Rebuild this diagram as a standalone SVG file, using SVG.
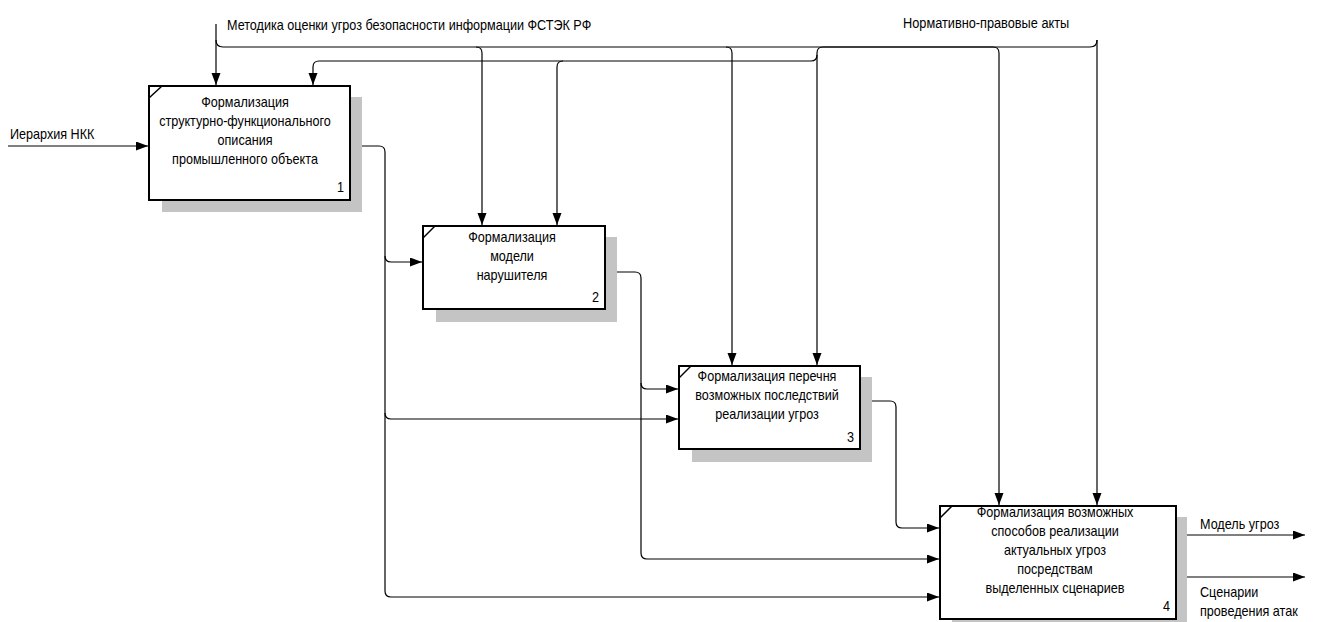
<svg xmlns="http://www.w3.org/2000/svg" width="1319" height="622" viewBox="0 0 1319 622">
  <style>
    text { font-family: "Liberation Sans", Arial, sans-serif; font-size: 14.5px; fill: #000; }
    .box { fill: #fff; stroke: #000; stroke-width: 2; }
    .shadow { fill: #c4c4c4; stroke: none; }
    .corner { stroke: #000; stroke-width: 1.5; fill: none; }
    .mid { text-anchor: middle; }
    .num { text-anchor: end; }
    .link { fill: none; stroke: #000; stroke-width: 1.2; }
    .arrow { marker-end: url(#head); }
  </style>
  <defs>
    <marker id="head" markerUnits="userSpaceOnUse" markerWidth="13" markerHeight="10" refX="12" refY="4.5" orient="auto">
      <path d="M0,0 L12,4.5 L0,9 z" fill="#000"/>
    </marker>
  </defs>
  <rect width="1319" height="622" fill="#fff"/>

  <!-- connectors -->
  <g id="connectors">
    <!-- control: methodology -->
    <path class="link arrow" d="M216,24 V85"/>
    <path class="link arrow" d="M216,40 q0,7 7,7 H993 q6,0 6,6 V505"/>
    <path class="link arrow" d="M476,47 q6,0 6,6 V225"/>
    <path class="link arrow" d="M726,47 q6,0 6,6 V365"/>
    <!-- control: legal acts -->
    <path class="link arrow" d="M1097,40 V505"/>
    <path class="link arrow" d="M1097,40 q0,7 -7,7 H823 q-6,0 -6,6 V365"/>
    <path class="link arrow" d="M817,55 q0,6 -6,6 H563 q-6,0 -6,6 V225"/>
    <path class="link arrow" d="M563,61 H319 q-6,0 -6,6 V85"/>
    <!-- input -->
    <path class="link arrow" d="M8,146 H148"/>
    <!-- outputs of block 1 -->
    <path class="link arrow" d="M350,146 H379 q6,0 6,6 V591 q0,6 6,6 H939"/>
    <path class="link arrow" d="M385,256 q0,6 6,6 H422"/>
    <path class="link arrow" d="M385,413 q0,6 6,6 H678"/>
    <!-- outputs of block 2 -->
    <path class="link arrow" d="M605,272 H635 q6,0 6,6 V553 q0,6 6,6 H939"/>
    <path class="link arrow" d="M641,383 q0,6 6,6 H678"/>
    <!-- output of block 3 -->
    <path class="link arrow" d="M860,401 H890 q6,0 6,6 V522 q0,6 6,6 H939"/>
    <!-- outputs of block 4 -->
    <path class="link arrow" d="M1176,535 H1305"/>
    <path class="link arrow" d="M1176,577 H1305"/>
  </g>

  <!-- arrow labels (narrow face: horizontally compressed) -->
  <g id="labels">
    <g transform="translate(227,0) scale(0.87,1)"><text x="0" y="30">Методика оценки угроз безопасности информации ФСТЭК РФ</text></g>
    <g transform="translate(903,0) scale(0.88,1)"><text x="0" y="28">Нормативно-правовые акты</text></g>
    <g transform="translate(10,0) scale(0.87,1)"><text x="0" y="139">Иерархия НКК</text></g>
    <g transform="translate(1200,0) scale(0.87,1)">
      <text x="0" y="529">Модель угроз</text>
      <text x="0" y="597">Сценарии</text>
      <text x="0" y="616">проведения атак</text>
    </g>
  </g>

  <g id="node1">
    <rect class="shadow" x="162" y="97" width="200" height="115"/>
    <rect class="box" x="149" y="86" width="201" height="114"/>
    <path class="corner" d="M149,98 L162,86"/>
    <g transform="translate(245,0) scale(0.87,1)">
      <text class="mid" x="0" y="107">Формализация</text>
      <text class="mid" x="0" y="126">структурно-функционального</text>
      <text class="mid" x="0" y="145">описания</text>
      <text class="mid" x="0" y="164">промышленного объекта</text>
    </g>
    <g transform="translate(344,0) scale(0.87,1)"><text class="num" x="0" y="192">1</text></g>
  </g>

  <g id="node2">
    <rect class="shadow" x="436" y="237" width="181" height="85"/>
    <rect class="box" x="423" y="226" width="182" height="83"/>
    <path class="corner" d="M423,238 L435,226"/>
    <g transform="translate(512,0) scale(0.87,1)">
      <text class="mid" x="0" y="242">Формализация</text>
      <text class="mid" x="0" y="261">модели</text>
      <text class="mid" x="0" y="280">нарушителя</text>
    </g>
    <g transform="translate(599,0) scale(0.87,1)"><text class="num" x="0" y="302">2</text></g>
  </g>

  <g id="node3">
    <rect class="shadow" x="692" y="377" width="180" height="85"/>
    <rect class="box" x="679" y="366" width="181" height="83"/>
    <path class="corner" d="M679,378 L691,366"/>
    <g transform="translate(767,0) scale(0.87,1)">
      <text class="mid" x="0" y="381">Формализация перечня</text>
      <text class="mid" x="0" y="400">возможных последствий</text>
      <text class="mid" x="0" y="419">реализации угроз</text>
    </g>
    <g transform="translate(854,0) scale(0.87,1)"><text class="num" x="0" y="442">3</text></g>
  </g>

  <g id="node4">
    <rect class="shadow" x="952" y="517" width="235" height="110"/>
    <rect class="box" x="940" y="506" width="236" height="113"/>
    <path class="corner" d="M940,518 L952,506"/>
    <g transform="translate(1055,0) scale(0.87,1)">
      <text class="mid" x="0" y="517">Формализация возможных</text>
      <text class="mid" x="0" y="536">способов реализации</text>
      <text class="mid" x="0" y="555">актуальных угроз</text>
      <text class="mid" x="0" y="574">посредствам</text>
      <text class="mid" x="0" y="593">выделенных сценариев</text>
    </g>
    <g transform="translate(1170,0) scale(0.87,1)"><text class="num" x="0" y="611">4</text></g>
  </g>
</svg>
